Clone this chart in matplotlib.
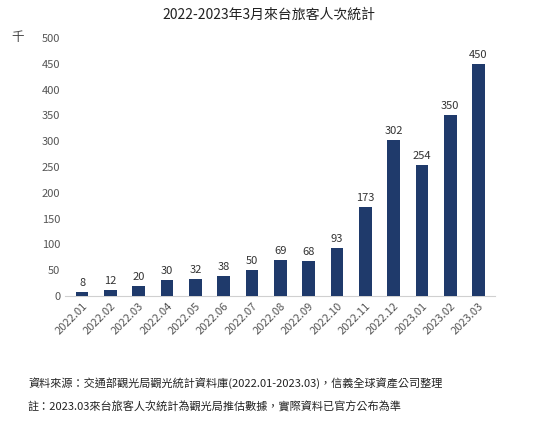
import matplotlib.pyplot as plt

plt.rcParams['font.family'] = ['Noto Sans CJK TC', 'DejaVu Sans']

months = ["2022.01", "2022.02", "2022.03", "2022.04", "2022.05", "2022.06", "2022.07",
          "2022.08", "2022.09", "2022.10", "2022.11", "2022.12", "2023.01", "2023.02", "2023.03"]
visitors = [8, 12, 20, 30, 32, 38, 50, 69, 68, 93, 173, 302, 254, 350, 450]

fig = plt.figure(figsize=(5.38, 4.21), dpi=100)
ax = fig.add_axes([0.121, 0.297, 0.80, 0.613])

x = range(len(months))
ax.bar(x, visitors, width=0.45, color="#1f3a6b", zorder=3)
for i, v in zip(x, visitors):
    ax.text(i, v + 8, str(v), ha="center", va="bottom", fontsize=8, color="#333333")

ax.set_ylim(0, 500)
ax.set_yticks(range(0, 501, 50))
ax.set_xlim(-0.6, len(months) - 0.4)
ax.set_xticks(list(x))
ax.set_xticklabels(months, rotation=45, ha="right", rotation_mode="anchor", fontsize=8, color="#555555")
ax.tick_params(axis="y", labelsize=8, labelcolor="#555555", length=0)
ax.tick_params(axis="x", length=0)
for s in ["top", "right", "left"]:
    ax.spines[s].set_visible(False)
ax.spines["bottom"].set_color("#d0d0d0")

fig.text(0.022, 0.91, "千", fontsize=9, color="#444444", va="center")
fig.text(0.5, 0.965, "2022-2023年3月來台旅客人次統計", ha="center", va="center", fontsize=10, color="#222222")
fig.text(0.052, 0.09, "資料來源：交通部觀光局觀光統計資料庫(2022.01-2023.03)，信義全球資產公司整理",
         fontsize=8, color="#222222", va="center")
fig.text(0.052, 0.033, "註：2023.03來台旅客人次統計為觀光局推估數據，實際資料已官方公布為準",
         fontsize=8, color="#222222", va="center")

fig.savefig("out.png", dpi=100)
